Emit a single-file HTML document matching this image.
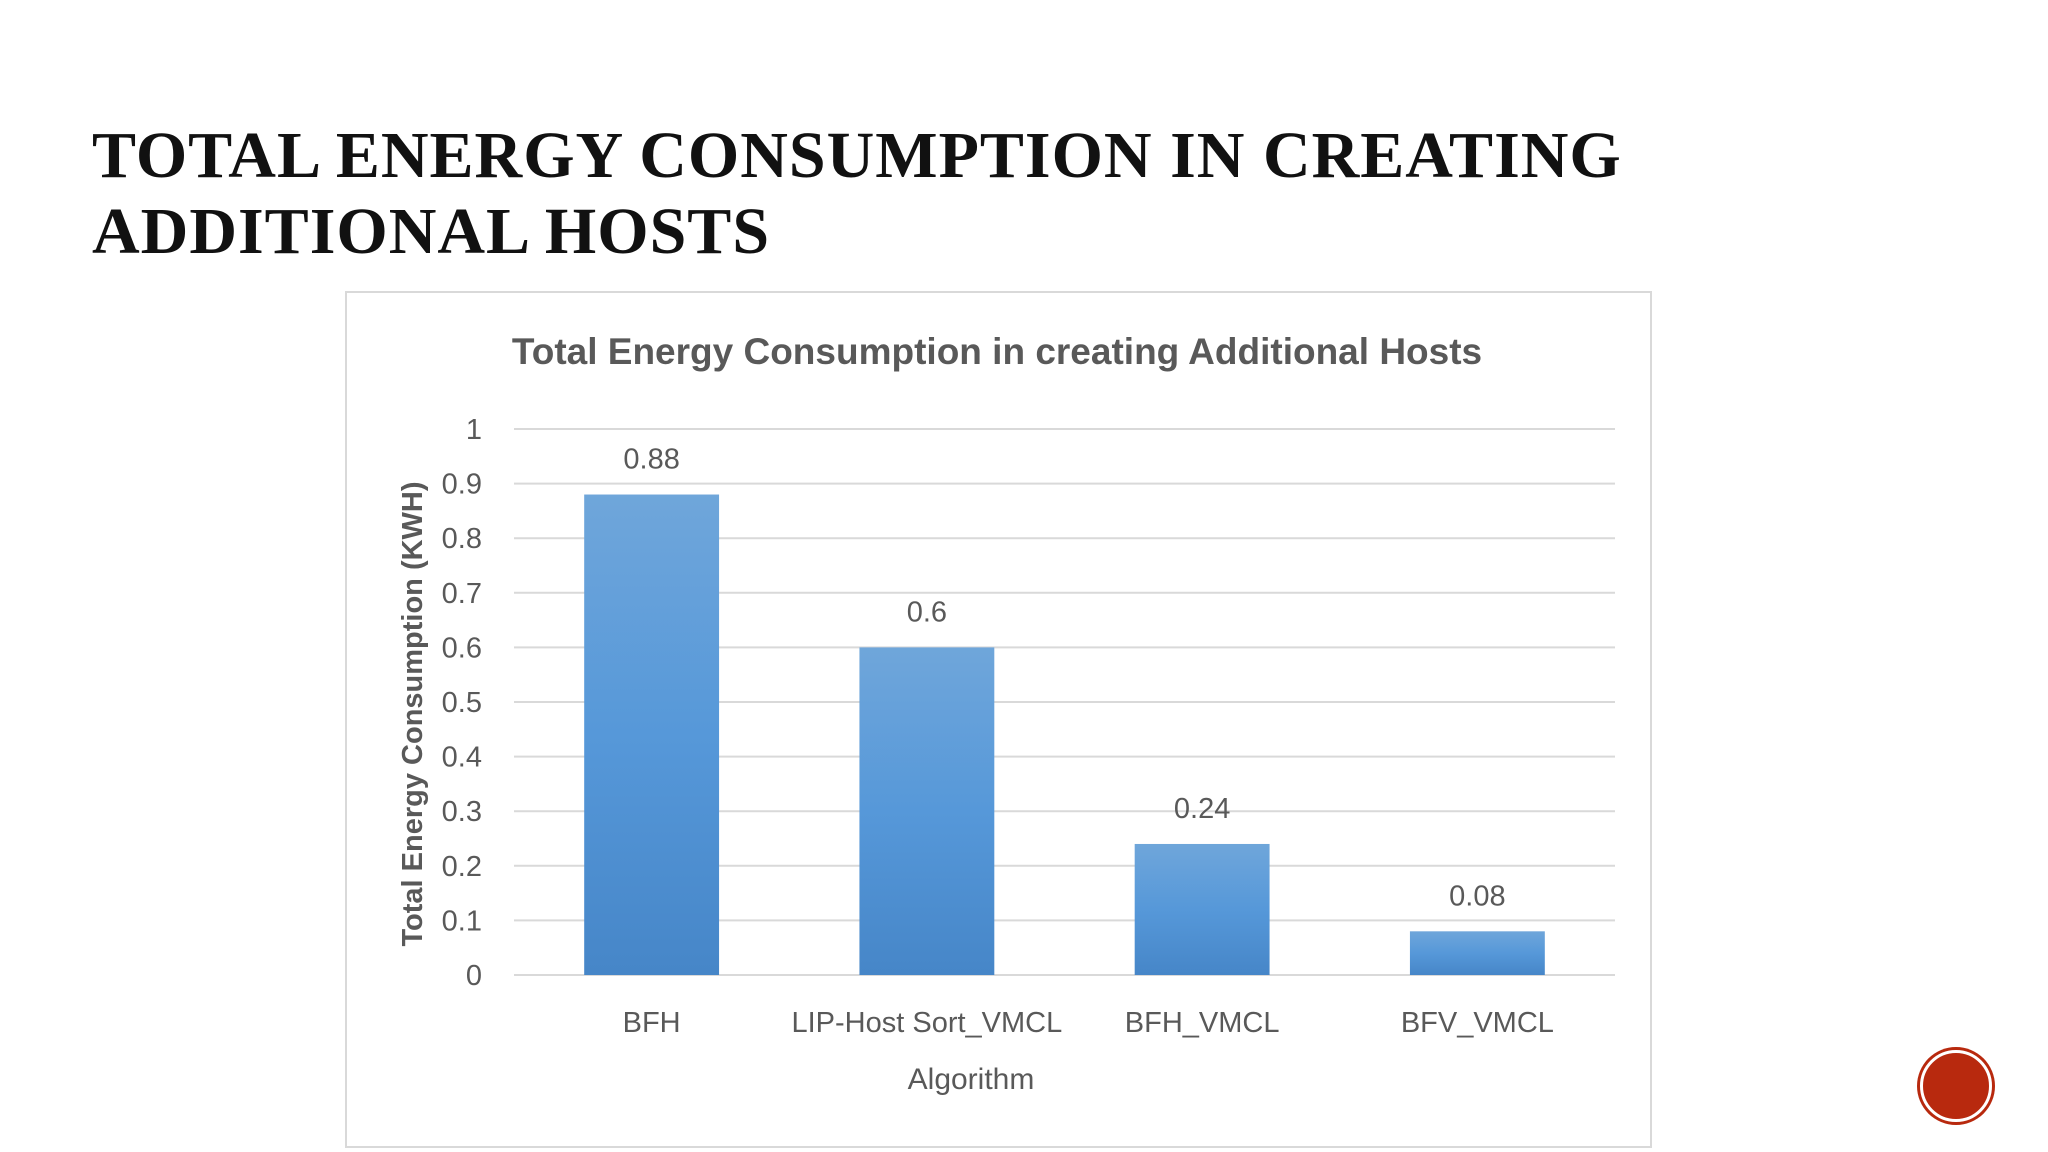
<!DOCTYPE html>
<html><head><meta charset="utf-8">
<style>
body{margin:0;background:#fff;width:2048px;height:1152px;overflow:hidden;position:relative;font-family:"Liberation Sans",sans-serif;}
#title{position:absolute;left:92px;top:118px;font-family:"Liberation Serif",serif;font-weight:bold;font-size:66px;line-height:76px;color:#111;letter-spacing:1px;margin:0;}
#chart{position:absolute;left:0;top:0;}
#dot{position:absolute;left:1920px;top:1050px;width:66px;height:66px;border-radius:50%;background:#b8290e;border:3px solid #fff;box-shadow:0 0 0 3px #b8290e;}
</style></head><body>
<h1 id="title">TOTAL ENERGY CONSUMPTION IN CREATING<br>ADDITIONAL HOSTS</h1>
<svg id="chart" width="2048" height="1152">
<defs><linearGradient id="g" x1="0" y1="0" x2="0" y2="1"><stop offset="0" stop-color="#6fa6da"/><stop offset="0.5" stop-color="#5698d9"/><stop offset="1" stop-color="#4686c8"/></linearGradient></defs>
<rect x="346" y="292" width="1305" height="855" fill="#fff" stroke="#d9d9d9" stroke-width="2"/>
<text x="997" y="364" text-anchor="middle" font-size="37" fill="#595959" font-weight="bold">Total Energy Consumption in creating Additional Hosts</text>
<g id="grid"></g><g id="bars"></g>
<text transform="translate(422,714) rotate(-90)" text-anchor="middle" font-size="29" font-weight="bold" fill="#595959">Total Energy Consumption   (KWH)</text>
<text x="971" y="1089" text-anchor="middle" font-size="30" fill="#595959">Algorithm</text>
</svg>
<div id="dot"></div>
<script>
const categories=["BFH","LIP-Host Sort_VMCL","BFH_VMCL","BFV_VMCL"];
const values=[0.88,0.6,0.24,0.08];
const valueLabels=["0.88","0.6","0.24","0.08"];
const yTicks=[0,0.1,0.2,0.3,0.4,0.5,0.6,0.7,0.8,0.9,1];
const yTickLabels=["0","0.1","0.2","0.3","0.4","0.5","0.6","0.7","0.8","0.9","1"];
const NS="http://www.w3.org/2000/svg";
const x0=514,x1=1615,yTop=429,yBot=975;
const y=v=>yBot-(v/1)*(yBot-yTop);
const band=(x1-x0)/categories.length;
const grid=document.getElementById('grid'),bars=document.getElementById('bars');
function mk(tag,attrs,parent,txt){const e=document.createElementNS(NS,tag);for(const k in attrs)e.setAttribute(k,attrs[k]);if(txt!==undefined)e.textContent=txt;parent.appendChild(e);return e;}
yTicks.forEach((t,i)=>{
 const l=mk('line',{x1:x0,x2:x1,y1:y(t),y2:y(t),stroke:'#d9d9d9','stroke-width':2},grid);
 
 
 const tx=mk('text',{x:482,y:y(t)+10,'text-anchor':'end','font-size':29,fill:'#595959'},grid,yTickLabels[i]);
 
 
});
categories.forEach((c,i)=>{
 const cx=x0+band*(i+0.5),w=band*0.49;
 const r=mk('rect',{x:cx-w/2,y:y(values[i]),width:w,height:yBot-y(values[i]),fill:'url(#g)'},bars);
 
 
 const v=mk('text',{x:cx,y:y(values[i])-26,'text-anchor':'middle','font-size':29,fill:'#595959'},bars,valueLabels[i]);
 
 
 const cl=mk('text',{x:cx,y:1032,'text-anchor':'middle','font-size':29,fill:'#595959'},bars,c);
 
 
});
</script>
</body></html>
